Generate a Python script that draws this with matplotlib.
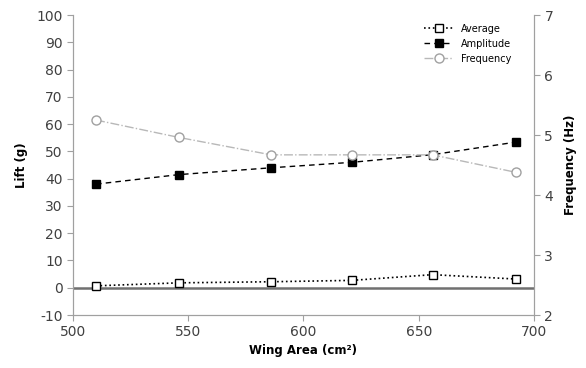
import matplotlib
matplotlib.use("Agg")
import matplotlib.pyplot as plt

wing_area = [510, 546, 586, 621, 656, 692]
average = [0.7, 1.8, 2.2, 2.7, 4.8, 3.2]
amplitude = [38.0, 41.5, 44.0, 46.0, 48.8, 53.4]
frequency = [5.25, 4.96, 4.67, 4.67, 4.67, 4.38]

left_ticks = [-10, 0, 10, 20, 30, 40, 50, 60, 70, 80, 90, 100]
right_ticks = [2, 3, 4, 5, 6, 7]
x_ticks = [500, 550, 600, 650, 700]

plt.rcParams['font.family'] = ['DejaVu Sans']
plt.rcParams['axes.unicode_minus'] = False
fig = plt.figure(figsize=(5.86, 3.68), dpi=100)
ax = fig.add_axes([0.1246, 0.144, 0.7866, 0.815])
ax2 = ax.twinx()

spine_c = '#a0a0a0'
tick_c = '#404040'

ax.axhline(0, color='#707070', lw=1.8, zorder=1)

l1, = ax.plot(wing_area, average, linestyle=':', color='black', lw=1.2,
              marker='s', markersize=5.5, markerfacecolor='white',
              markeredgecolor='black', markeredgewidth=1.0, label='Average', zorder=3)
l2, = ax.plot(wing_area, amplitude, linestyle='--', color='black', lw=1.0,
              dashes=(4, 3), marker='s', markersize=5.5, markerfacecolor='black',
              markeredgecolor='black', label='Amplitude', zorder=3)
l3, = ax2.plot(wing_area, frequency, linestyle='-.', color='#b8b8b8', lw=1.0,
               marker='o', markersize=6.5, markerfacecolor='white',
               markeredgecolor='#a0a0a0', markeredgewidth=1.0, label='Frequency', zorder=3)

ax.set_xlim(500, 700)
ax.set_ylim(-10, 100)
ax2.set_ylim(2, 7)
ax.set_xticks(x_ticks)
ax.set_yticks(left_ticks)
ax2.set_yticks(right_ticks)

for a in (ax, ax2):
    for s in a.spines.values():
        s.set_color(spine_c)
    a.spines['top'].set_visible(False)
    a.tick_params(colors=spine_c, labelcolor=tick_c, labelsize=10, length=4, width=0.8)

ax.set_xlabel('Wing Area (cm²)', fontsize=8.5, fontweight='bold', labelpad=3)
ax.set_ylabel('Lift (g)', fontsize=8.5, fontweight='bold', labelpad=6)
ax2.set_ylabel('Frequency (Hz)', fontsize=8.5, fontweight='bold', labelpad=8)

ax.legend(handles=[l1, l2, l3], loc='upper right', frameon=False, fontsize=7,
          handlelength=3, bbox_to_anchor=(0.97, 1.0), labelspacing=0.5)

fig.savefig('out.png', dpi=100)
